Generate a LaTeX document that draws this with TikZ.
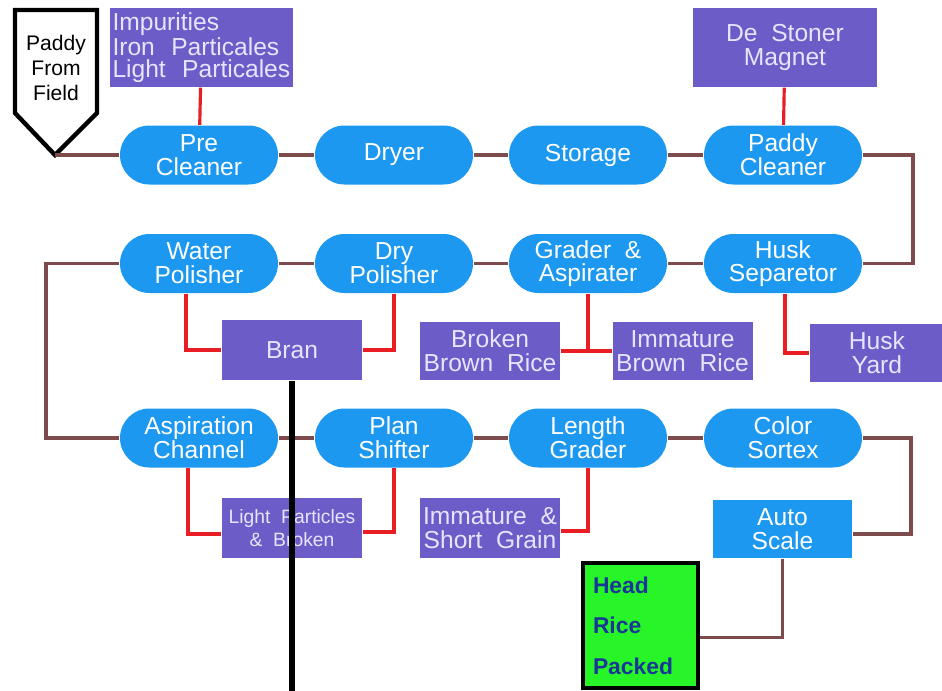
\documentclass[tikz,border=0pt]{standalone}
\usepackage{fontspec}
\setmainfont{Liberation Sans}
\definecolor{procblue}{RGB}{28,152,240}
\definecolor{wastepurple}{RGB}{108,92,200}
\definecolor{wastetext}{RGB}{232,228,255}
\definecolor{flowbrown}{RGB}{125,75,75}
\definecolor{splitred}{RGB}{232,30,36}
\definecolor{headgreen}{RGB}{40,245,40}
\definecolor{headblue}{RGB}{25,55,150}
\begin{document}
\begin{tikzpicture}[thick, font=\fontsize{14}{13.5}\selectfont, proc/.style={fill=procblue, text=white, rounded corners=0.59cm, minimum width=3.16cm, minimum height=1.18cm, inner sep=0pt, align=center}, waste/.style={fill=wastepurple, text=wastetext, minimum width=2.8cm, minimum height=1.2cm, inner sep=0pt, align=center}, flow/.style={draw=flowbrown, line width=2.2pt}, split/.style={draw=splitred, line width=1.8pt}]
		\useasboundingbox (0,0) rectangle (18.84,-13.82);
		\coordinate (tip) at (1.1,-3.1);
		\draw[line width=2.5pt, fill=white] (0.3,-0.2) -- (1.94,-0.2) -- (1.94,-2.26) -- (tip) -- (0.3,-2.26) -- cycle;
		\node[align=center, font=\fontsize{12}{14}\selectfont] (field) at (1.12,-1.36) {Paddy\\From\\Field};
		\node[proc] (pre) at (3.98,-3.1) {Pre\\Cleaner};
		\node[proc] (dryer) at (7.88,-3.1) {Dryer};
		\node[proc] (storage) at (11.76,-3.1) {Storage};
		\node[proc] (pcl) at (15.66,-3.1) {Paddy\\Cleaner};
		\node[proc] (wpol) at (3.98,-5.27) {Water\\Polisher};
		\node[proc] (dpol) at (7.88,-5.27) {Dry\\Polisher};
		\node[proc] (grader) at (11.76,-5.27) {Grader\ \ \&\\Aspirater};
		\node[proc] (husk) at (15.66,-5.27) {Husk\\Separetor};
		\node[proc] (asp) at (3.98,-8.76) {Aspiration\\Channel};
		\node[proc] (plan) at (7.88,-8.76) {Plan\\Shifter};
		\node[proc] (length) at (11.76,-8.76) {Length\\Grader};
		\node[proc] (color) at (15.66,-8.76) {Color\\Sortex};
		\node[waste, minimum width=3.66cm, minimum height=1.58cm, text width=3.56cm, align=left, font=\fontsize{14}{12.5}\selectfont] (impur) at (4.03,-0.95) {Impurities\\Iron\ \ Particales\\Light\ \ Particales};
		\node[waste, minimum width=3.68cm, minimum height=1.58cm] (stoner) at (15.7,-0.95) {De\ \ Stoner\\Magnet};
		\node[waste] (bran) at (5.84,-7.0) {Bran};
		\node[waste, minimum height=1.16cm] (broken) at (9.8,-7.02) {Broken\\Brown\ \ Rice};
		\node[waste, minimum height=1.16cm] (immat) at (13.65,-7.02) {Immature\\Brown\ \ Rice};
		\node[waste, minimum width=2.68cm, minimum height=1.16cm] (yard) at (17.54,-7.06) {Husk\\Yard};
		\node[waste, font=\fontsize{11}{13}\selectfont] (light) at (5.84,-10.56) {Light\ \ Particles\\\&\ \ Broken};
		\node[waste] (short) at (9.8,-10.56) {Immature\ \ \&\\Short\ \ Grain};
		\node[proc, rounded corners=0pt, minimum width=2.78cm, minimum height=1.16cm] (scale) at (15.65,-10.58) {Auto\\Scale};
		\node[draw, line width=2.5pt, fill=headgreen, text=headblue, minimum width=2.3cm, minimum height=2.5cm, text width=1.9cm, align=left, font=\bfseries\fontsize{13}{23}\selectfont] (head) at (12.81,-12.51) {Head\\Rice\\Packed};
		\coordinate (bottom) at (5.84,-13.82);
		\path[flow]
		(tip) edge (pre)
		(pre) edge (dryer)
		(dryer) edge (storage)
		(storage) edge (pcl)
		(husk) edge (grader)
		(grader) edge (dpol)
		(dpol) edge (wpol)
		(asp) edge (plan)
		(plan) edge (length)
		(length) edge (color);
		\draw[flow] (pcl.east) -- ++(1.0,0) |- (husk.east);
		\draw[flow] (wpol.west) -- ++(-1.46,0) |- (asp.west);
		\draw[flow] (color.east) -- ++(0.96,0) |- ([yshift=-0.1cm]scale.east);
		\draw[flow] (scale.south) |- ([yshift=-0.24cm]head.east);
		\draw[split] (impur) -- (pre);
		\draw[split] (stoner) -- (pcl);
		\draw[split] ([xshift=-0.26cm]wpol.south) |- (bran.west);
		\draw[split] (dpol.south) |- (bran.east);
		\draw[split] (grader.south) -- (grader.south |- broken.east);
		\draw[split] (broken.east) -- (immat.west);
		\draw[split] ([xshift=0.04cm]husk.south) |- (yard.west);
		\draw[split] ([xshift=-0.22cm]asp.south) |- ([yshift=-0.12cm]light.west);
		\draw[split] (plan.south) |- ([yshift=-0.08cm]light.east);
		\draw[split] (length.south) |- ([yshift=-0.06cm]short.east);
		\draw[line width=3.2pt] (bran.south) -- (bottom);
	\end{tikzpicture}
\end{document}
